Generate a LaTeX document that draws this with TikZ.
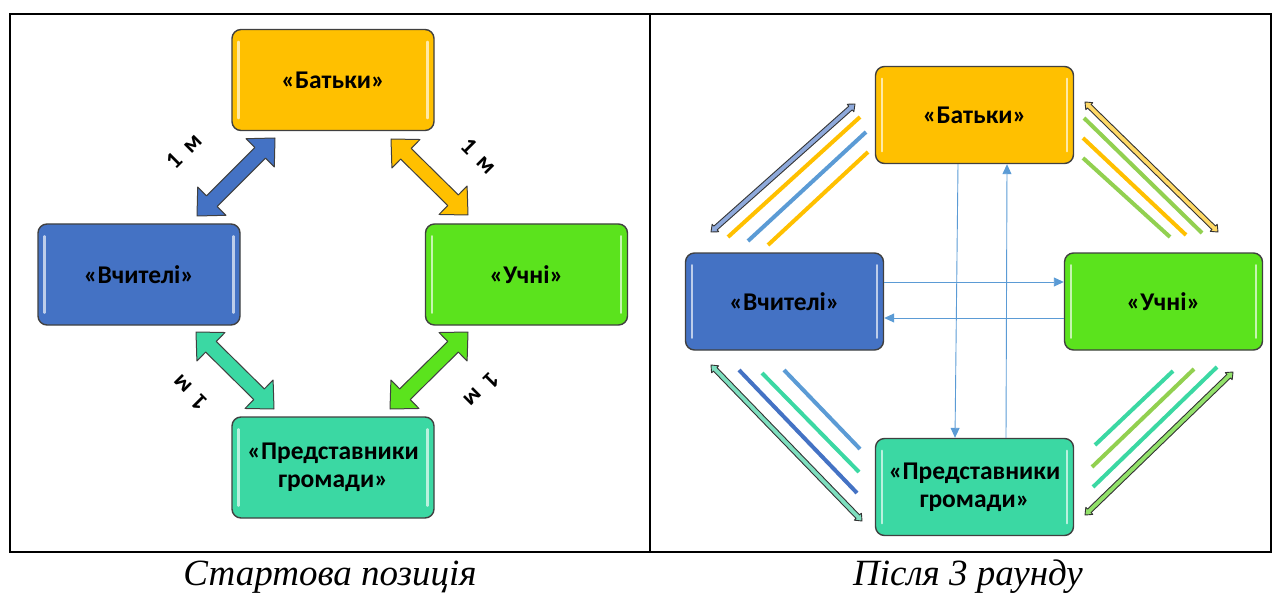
\documentclass[tikz,border=0pt]{standalone}
\usepackage{fontspec}
\setmainfont{Liberation Serif}
\newfontfamily\boxfont{Carlito}
\usetikzlibrary{arrows.meta,calc}
\definecolor{cOrange}{HTML}{FFC000}
\definecolor{cBlue}{HTML}{4472C4}
\definecolor{cGreen}{HTML}{5BE31D}
\definecolor{cTeal}{HTML}{3BD8A3}
\definecolor{cLBlue}{HTML}{5B9BD5}
\definecolor{cLGreen}{HTML}{92D050}
\definecolor{cEdge}{HTML}{404040}
\definecolor{aBlue}{HTML}{8EA9DB}
\definecolor{aOrange}{HTML}{FFD966}
\definecolor{aTeal}{HTML}{7EDFBF}
\definecolor{aGreen}{HTML}{92E26A}
\newcommand\dblarrow[6]{%
  \path ($(#1)!#5!(#2)$) coordinate (tmpA1) ($(#2)!#5!(#1)$) coordinate (tmpA2);
  \draw[#6] (#1) -- ($(tmpA1)!#4!90:(#2)$) -- ($(tmpA1)!#3!90:(#2)$)
    -- ($(tmpA2)!#3!-90:(#1)$) -- ($(tmpA2)!#4!-90:(#1)$) -- (#2)
    -- ($(tmpA2)!#4!90:(#1)$) -- ($(tmpA2)!#3!90:(#1)$)
    -- ($(tmpA1)!#3!-90:(#2)$) -- ($(tmpA1)!#4!-90:(#2)$) -- cycle;}
\newcommand\gloss[1]{%
  \draw[white, opacity=.65, line width=2.5pt, line cap=round]
    ($(#1.north west)+(7,13)$) -- ($(#1.south west)+(7,-13)$)
    ($(#1.north east)+(-7,13)$) -- ($(#1.south east)+(-7,-13)$);}
\tikzset{
  box/.style={draw=cEdge, line width=1.4pt, rounded corners=9pt,
    minimum width=202pt, minimum height=101pt, align=center, inner sep=2pt,
    font=\boxfont\bfseries\fontsize{25.5}{28}\selectfont, text=black},
  rbox/.style={box, minimum width=198pt, minimum height=97pt},
  blk/.style={fill=#1, draw=cEdge, line width=1pt, line join=round},
  thinarr/.style={fill=#1, draw=black!80, line width=0.9pt, line join=round},
  mlabel/.style={font=\boxfont\bfseries\fontsize{24}{24}\selectfont, inner sep=0pt},
  stripe/.style={draw=#1, line width=4pt},
  flow/.style={draw=cLBlue, line width=0.9pt, -{Triangle[length=10pt,width=9pt]}},
  caption/.style={font=\itshape\fontsize{37}{40}\selectfont, inner sep=0pt}
}
\begin{document}
\begin{tikzpicture}[x=1pt,y=-1pt]
\useasboundingbox (0,0) rectangle (1277,596);
% table frame
\draw[line width=1.2pt] (10,14) rectangle (1271,552);
\draw[line width=1.2pt] (650,14) -- (650,552);
\node[caption] (cap1) at (330,577) {Стартова позиція};
\node[caption] (cap2) at (968,577) {Після 3 раунду};

% ---------- left panel ----------
\node[box, fill=cOrange] (L1) at (333,80) {«Батьки»};
\node[box, fill=cBlue] (L2) at (139,274.5) {«Вчителі»};
\node[box, fill=cGreen] (L3) at (526.5,274.5) {«Учні»};
\node[box, fill=cTeal] (L4) at (333,467.5) {«Представники\\громади»};
\foreach \n in {L1,L2,L3,L4} {\gloss{\n}}

\coordinate (a1s) at (197,216); \coordinate (a1e) at (275,138);
\coordinate (a2s) at (391,139); \coordinate (a2e) at (468,215);
\coordinate (a3s) at (196,332); \coordinate (a3e) at (274,409);
\coordinate (a4s) at (468,332); \coordinate (a4e) at (390,409);
\dblarrow{a1s}{a1e}{7.5pt}{20pt}{21pt}{blk=cBlue}
\dblarrow{a2s}{a2e}{7.5pt}{20pt}{21pt}{blk=cOrange}
\dblarrow{a3s}{a3e}{7.5pt}{20pt}{21pt}{blk=cTeal}
\dblarrow{a4s}{a4e}{7.5pt}{20pt}{21pt}{blk=cGreen}
\node[mlabel, rotate=45] (m1) at (184,151) {1\hspace{0.4em}м};
\node[mlabel, rotate=-45] (m2) at (479,156) {1\hspace{0.4em}м};
\node[mlabel, rotate=135] (m3) at (190,393) {1\hspace{0.4em}м};
\node[mlabel, rotate=-135] (m4) at (482,390) {1\hspace{0.4em}м};

% ---------- right panel ----------
\node[rbox, fill=cOrange] (R1) at (974.5,115) {«Батьки»};
\node[rbox, fill=cBlue] (R2) at (784.5,301.5) {«Вчителі»};
\node[rbox, fill=cGreen] (R3) at (1163.5,301.5) {«Учні»};
\node[rbox, fill=cTeal] (R4) at (974.5,487) {«Представники\\громади»};
\foreach \n in {R1,R2,R3,R4} {\gloss{\n}}

% thin double arrows
\coordinate (t1s) at (711,232); \coordinate (t1e) at (855,104);
\coordinate (t2s) at (1085,102); \coordinate (t2e) at (1218,232);
\coordinate (t3s) at (711,365); \coordinate (t3e) at (862,521);
\coordinate (t4s) at (1233,372); \coordinate (t4e) at (1085,515);
\dblarrow{t1s}{t1e}{2.5pt}{5pt}{6pt}{thinarr=aBlue}
\dblarrow{t2s}{t2e}{2.5pt}{5pt}{6pt}{thinarr=aOrange}
\dblarrow{t3s}{t3e}{2.5pt}{5pt}{6pt}{thinarr=aTeal}
\dblarrow{t4s}{t4e}{2.5pt}{5pt}{6pt}{thinarr=aGreen}

% stripes top-left
\coordinate (s11a) at (728,237); \coordinate (s11b) at (860,117);
\coordinate (s12a) at (748,241); \coordinate (s12b) at (866,132);
\coordinate (s13a) at (768,245); \coordinate (s13b) at (868,152);
\draw[stripe=cOrange] (s11a) -- (s11b);
\draw[stripe=cLBlue] (s12a) -- (s12b);
\draw[stripe=cOrange] (s13a) -- (s13b);
% stripes top-right
\coordinate (s21a) at (1084,118); \coordinate (s21b) at (1202,233);
\coordinate (s22a) at (1083,138); \coordinate (s22b) at (1186,235);
\coordinate (s23a) at (1083,158); \coordinate (s23b) at (1170,237);
\draw[stripe=cLGreen] (s21a) -- (s21b);
\draw[stripe=cOrange] (s22a) -- (s22b);
\draw[stripe=cLGreen] (s23a) -- (s23b);
% stripes bottom-left
\coordinate (s31a) at (739,370); \coordinate (s31b) at (857,493);
\coordinate (s32a) at (762,373); \coordinate (s32b) at (859,472);
\coordinate (s33a) at (784,370); \coordinate (s33b) at (860,449);
\draw[stripe=cBlue] (s31a) -- (s31b);
\draw[stripe=cTeal] (s32a) -- (s32b);
\draw[stripe=cLBlue] (s33a) -- (s33b);
% stripes bottom-right
\coordinate (s41a) at (1173,371); \coordinate (s41b) at (1095,445);
\coordinate (s42a) at (1194,369); \coordinate (s42b) at (1092,467);
\coordinate (s43a) at (1217,367); \coordinate (s43b) at (1093,487);
\draw[stripe=cTeal] (s41a) -- (s41b);
\draw[stripe=cLGreen] (s42a) -- (s42b);
\draw[stripe=cTeal] (s43a) -- (s43b);

% flows in the middle
\draw[flow] (R1.south -| 958,0) -- (R4.north -| 955,0);
\draw[flow] (R4.north -| 1006,0) -- (R1.south -| 1007,0);
\draw[flow] (R2.east |- 0,282) -- (R3.west |- 0,282);
\draw[flow] (R3.west |- 0,318) -- (R2.east |- 0,318);
\end{tikzpicture}
\end{document}
